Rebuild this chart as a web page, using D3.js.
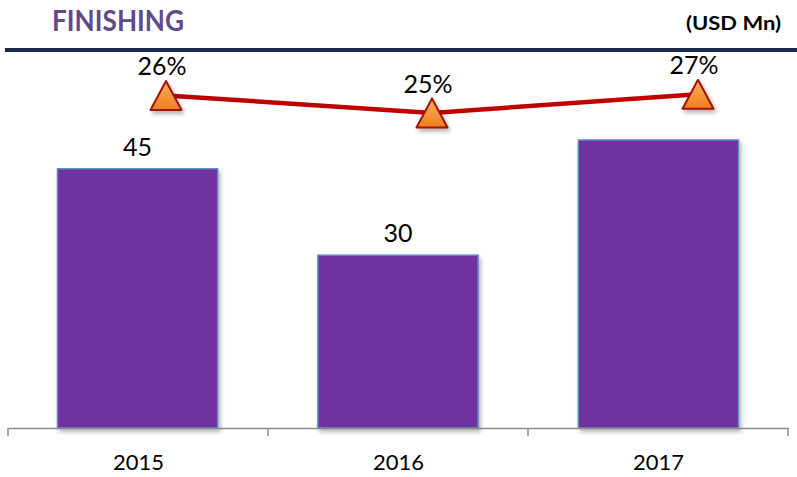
<!DOCTYPE html>
<html>
<head>
<meta charset="utf-8">
<script src="https://cdn.jsdelivr.net/npm/d3@7"></script>
<style>
  body { margin: 0; background: #fff; }
  text { font-family: Lato, "Open Sans", sans-serif; }
</style>
</head>
<body>
<div id="chart"></div>
<script>
var years = ["2015", "2016", "2017"];
var barValues = [45, 30, 50];
var barLabels = ["45", "30", ""];
var shareValues = [0.264, 0.249, 0.265];
var shareLabels = ["26%", "25%", "27%"];

var svgWidth = 797, svgHeight = 477;
var svg = d3.select("#chart").append("svg")
  .attr("width", svgWidth)
  .attr("height", svgHeight);

var defs = svg.append("defs");
var shadow = defs.append("filter").attr("id", "shadow")
  .attr("x", "-20%").attr("y", "-20%").attr("width", "150%").attr("height", "150%");
shadow.append("feDropShadow")
  .attr("dx", 2).attr("dy", 3).attr("stdDeviation", 2)
  .attr("flood-color", "#000").attr("flood-opacity", 0.3);

var grad = defs.append("linearGradient").attr("id", "tri")
  .attr("x1", 0).attr("y1", 0).attr("x2", 0).attr("y2", 1);
grad.append("stop").attr("offset", "0%").attr("stop-color", "#f8b060");
grad.append("stop").attr("offset", "100%").attr("stop-color", "#ee7f1c");

// header
svg.append("text")
  .attr("x", 52).attr("y", 31)
  .attr("font-size", 28).attr("font-weight", "bold")
  .attr("fill", "#604a8a")
  .attr("textLength", 132)
  .attr("lengthAdjust", "spacingAndGlyphs")
  .text("FINISHING");

svg.append("text")
  .attr("x", 781).attr("y", 30)
  .attr("text-anchor", "end")
  .attr("font-size", 19).attr("font-weight", "bold")
  .attr("fill", "#000")
  .attr("textLength", 95)
  .attr("lengthAdjust", "spacingAndGlyphs")
  .text("(USD Mn)");

svg.append("rect")
  .attr("x", 5).attr("y", 48)
  .attr("width", 792).attr("height", 4)
  .attr("fill", "#1b2a4a");

// scales
var x = d3.scaleBand()
  .domain(years)
  .range([8, 788])
  .paddingInner(0.385)
  .paddingOuter(0.19);

var y = d3.scaleLinear()
  .domain([0, 50])
  .range([428, 140]);

var xLine = d3.scalePoint()
  .domain(years)
  .range([166, 698]);

var yLine = d3.scaleLinear()
  .domain([0.20, 0.30])
  .range([170, 53.5]);

// bars
svg.selectAll("rect.bar")
  .data(years)
  .enter()
  .append("rect")
  .attr("class", "bar")
  .attr("x", d => x(d))
  .attr("y", (d, i) => y(barValues[i]))
  .attr("width", x.bandwidth())
  .attr("height", (d, i) => y(0) - y(barValues[i]))
  .attr("fill", "#7030a0")
  .attr("stroke", "#5b8bc7")
  .attr("stroke-width", 1.5)
  .attr("filter", "url(#shadow)");

svg.selectAll("text.barlabel")
  .data(years)
  .enter()
  .append("text")
  .attr("class", "barlabel")
  .attr("x", d => x(d) + x.bandwidth() / 2)
  .attr("y", (d, i) => y(barValues[i]) - 13)
  .attr("text-anchor", "middle")
  .attr("font-size", 25)
  .attr("fill", "#000")
  .text((d, i) => barLabels[i]);

// x axis
var xAxisScale = d3.scalePoint().domain(years).range([8, 788]).padding(0.5);
var bottomAxis = d3.axisBottom(xAxisScale).tickSize(0);
var axisG = svg.append("g")
  .attr("transform", "translate(0, 428)")
  .call(bottomAxis);
axisG.select(".domain").attr("stroke", "#8c8c8c").attr("stroke-width", 1.5);
axisG.selectAll("text")
  .attr("y", 42)
  .attr("dy", 0)
  .attr("font-size", 22)
  .attr("fill", "#000")
  .style("font-family", "Lato, 'Open Sans', sans-serif");

var bandStep = (788 - 8) / years.length;
var tickPos = d3.range(years.length + 1).map(i => 8 + i * bandStep);
axisG.selectAll("line.sep")
  .data(tickPos)
  .enter()
  .append("line")
  .attr("class", "sep")
  .attr("x1", d => d).attr("x2", d => d)
  .attr("y1", 0).attr("y2", 8)
  .attr("stroke", "#8c8c8c")
  .attr("stroke-width", 1.5);

// share line
var line = d3.line()
  .x((d, i) => xLine(years[i]))
  .y(d => yLine(d));

svg.append("path")
  .datum(shareValues)
  .attr("d", line)
  .attr("fill", "none")
  .attr("stroke", "#c00000")
  .attr("stroke-width", 4.5);

var triPath = "M0,-14.5L15.5,14.5L-15.5,14.5Z";
svg.selectAll("path.tri")
  .data(shareValues)
  .enter()
  .append("path")
  .attr("class", "tri")
  .attr("d", triPath)
  .attr("transform", (d, i) => `translate(${xLine(years[i])}, ${yLine(d)})`)
  .attr("fill", "url(#tri)")
  .attr("stroke", "#a0150a")
  .attr("stroke-width", 2)
  .attr("stroke-linejoin", "round")
  .attr("filter", "url(#shadow)");

svg.selectAll("text.share")
  .data(shareValues)
  .enter()
  .append("text")
  .attr("class", "share")
  .attr("x", (d, i) => xLine(years[i]) - 4)
  .attr("y", d => yLine(d) - 20)
  .attr("text-anchor", "middle")
  .attr("font-size", 25)
  .attr("fill", "#000")
  .text((d, i) => shareLabels[i]);
</script>
</body>
</html>
